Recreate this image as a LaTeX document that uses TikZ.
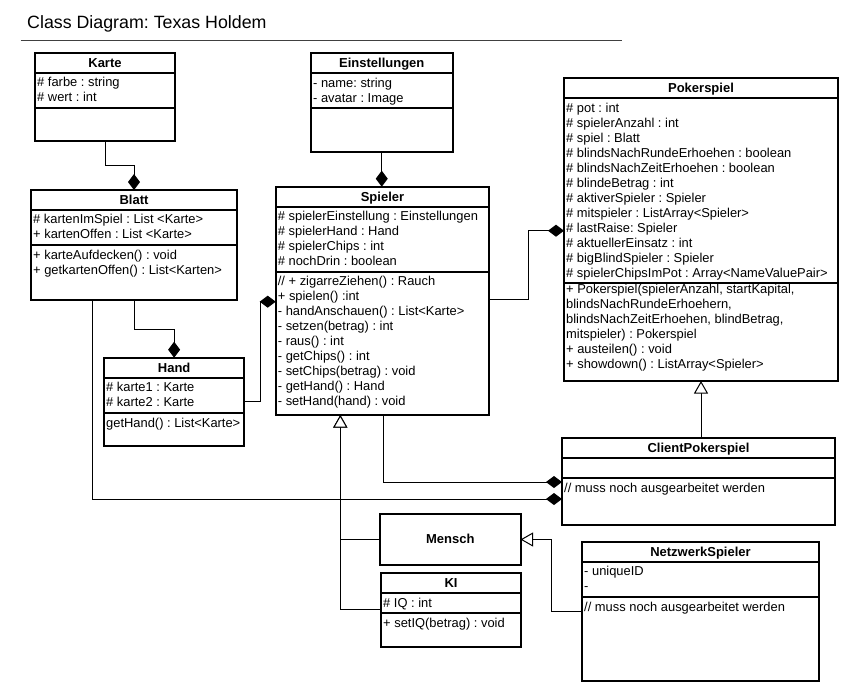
\documentclass[tikz,border=0pt]{standalone}
\usepackage{fontspec}
\setmainfont{Liberation Sans}
\usetikzlibrary{arrows.meta}
\frenchspacing
\tikzset{
  cls/.style={draw, line width=2pt, inner sep=0pt, outer sep=0pt, fill=white},
  sepline/.style={line width=2pt},
  hdr/.style={font=\fontsize{13}{15}\selectfont\bfseries, anchor=base, inner sep=0pt},
  txt/.style={font=\fontsize{12.9}{15}\selectfont, anchor=base west, inner sep=0pt},
  conn/.style={line width=1pt},
  comp/.style={conn, -{Diamond[length=16pt,width=12pt]}},
  inh/.style={conn, -{Triangle[length=12.5pt,width=14pt,fill=white]}},
}
\newcommand\umlclass[8]{%
  \node[cls, anchor=north west, minimum width={(#4-#2)*1pt}, minimum height={(#5-#3)*1pt}] (#1) at (#2,#3) {};
  \draw[sepline] (#2,#6) -- (#4,#6);
  \draw[sepline] (#2,#7) -- (#4,#7);
  \node[hdr] (#1-title) at ({(#2+#4)/2},{(#3+#6)/2+4.6}) {#8};
}
\newcommand\umltext[4]{%
  \foreach \umlitem [count=\umli from 0] in {#4} {\node[txt] (#1-\umli) at ({#2},{#3+15*\umli}) {\umlitem};}%
}
\begin{document}
\begin{tikzpicture}[x=1pt,y=-1pt]
\fill[white] (0,0) rectangle (858,697);
\useasboundingbox (0,0) rectangle (858,697);

\node[font=\fontsize{17.8}{20}\selectfont, anchor=base west, inner sep=0pt] (title) at (27,28.3) {Class Diagram: Texas Holdem};
\draw[line width=1pt, black!75] (20.7,40.3) -- (622,40.3);

% classes
\umlclass{karte}{35}{53}{175}{141}{73}{108}{Karte}
\umltext{karte-a}{37}{86.5}{{\# farbe : string},{\# wert : int}}

\umlclass{blatt}{31}{190}{237}{300}{210}{245}{Blatt}
\umltext{blatt-a}{33}{223.8}{{\# kartenImSpiel : List <Karte>},{+ kartenOffen : List <Karte>}}
\umltext{blatt-m}{33}{259.5}{{+ karteAufdecken() : void},{+ getkartenOffen() : List<Karten>}}

\umlclass{hand}{104}{357.7}{244.3}{446}{377.7}{412.7}{Hand}
\umltext{hand-a}{106}{391.8}{{\# karte1 : Karte},{\# karte2 : Karte}}
\umltext{hand-m}{106}{427.2}{{getHand() : List<Karte>}}

\umlclass{einst}{311}{52.7}{452.5}{151.7}{73.3}{108}{Einstellungen}
\umltext{einst-a}{313}{87.2}{{- name: string},{- avatar : Image}}

\umlclass{spieler}{275.7}{186.7}{489.3}{415}{206.7}{272}{Spieler}
\umltext{spieler-a}{277.7}{220.5}{{\# spielerEinstellung : Einstellungen},{\# spielerHand : Hand},{\# spielerChips : int},{\# nochDrin : boolean}}
\umltext{spieler-m}{277.7}{285.2}{{// + zigarreZiehen() : Rauch},{+ spielen() :int},{- handAnschauen() : List<Karte>},{- setzen(betrag) : int},{- raus() : int},{- getChips() : int},{- setChips(betrag) : void},{- getHand() : Hand},{- setHand(hand) : void}}

\umlclass{poker}{564}{78}{838}{381}{98}{283.3}{Pokerspiel}
\umltext{poker-a}{566}{112.2}{{\# pot : int},{\# spielerAnzahl : int},{\# spiel : Blatt},{\# blindsNachRundeErhoehen : boolean},{\# blindsNachZeitErhoehen : boolean},{\# blindeBetrag : int},{\# aktiverSpieler : Spieler},{\# mitspieler : ListArray<Spieler>},{\# lastRaise: Spieler},{\# aktuellerEinsatz : int},{\# bigBlindSpieler : Spieler},{\# spielerChipsImPot : Array<NameValuePair>}}
\umltext{poker-m}{566}{293.5}{{+ Pokerspiel(spielerAnzahl, startKapital,},{blindsNachRundeErhoehern,},{blindsNachZeitErhoehen, blindBetrag,},{mitspieler) : Pokerspiel},{+ austeilen() : void},{+ showdown() : ListArray<Spieler>}}

\umlclass{client}{562}{437.5}{835}{525}{457.5}{478}{ClientPokerspiel}
\umltext{client-m}{564}{492.5}{{// muss noch ausgearbeitet werden}}

\node[cls, anchor=north west, minimum width=140.5pt, minimum height=51pt] (mensch) at (380,514) {};
\node[hdr] (mensch-title) at (450.25,543.6) {Mensch};

\umlclass{ki}{381}{572.5}{521}{646.5}{593}{613}{KI}
\umltext{ki-a}{383}{607}{{\# IQ : int}}
\umltext{ki-m}{383}{627.2}{{+ setIQ(betrag) : void}}

\umlclass{netz}{582}{541.5}{819}{681}{561.5}{596.7}{NetzwerkSpieler}
\umltext{netz-a}{584}{575.8}{{- uniqueID},{-}}
\umltext{netz-m}{584}{611}{{// muss noch ausgearbeitet werden}}

% connectors
\draw[comp] (karte.south) -- ++(0,24) -| (blatt.north);
\draw[comp] (blatt.south) -- ++(0,29.3) -| (hand.north);
\draw[comp] (hand.east) -- ++(15.7,0) |- ([yshift=-115pt]spieler.north west);
\draw[comp] (einst.south) -- (einst.south |- spieler.north);
\draw[comp] ([yshift=-112.6pt]spieler.north east) -- ++(38.7,0) |- ([yshift=-152.7pt]poker.north west);
\draw[comp] ([xshift=107.3pt]spieler.south west) |- ([yshift=-44.5pt]client.north west);
\draw[comp] ([xshift=61.3pt]blatt.south west) |- ([yshift=-61.5pt]client.north west);
\draw[inh] (client.north -| poker.south) -- (poker.south);
\draw[inh] (ki.west) -| ([xshift=64.6pt]spieler.south west);
\draw[inh] (mensch.west) -| ([xshift=64.6pt]spieler.south west);
\draw[inh] ([yshift=-70pt]netz.north west) -- ++(-30.4,0) |- (mensch.east);
\end{tikzpicture}
\end{document}
